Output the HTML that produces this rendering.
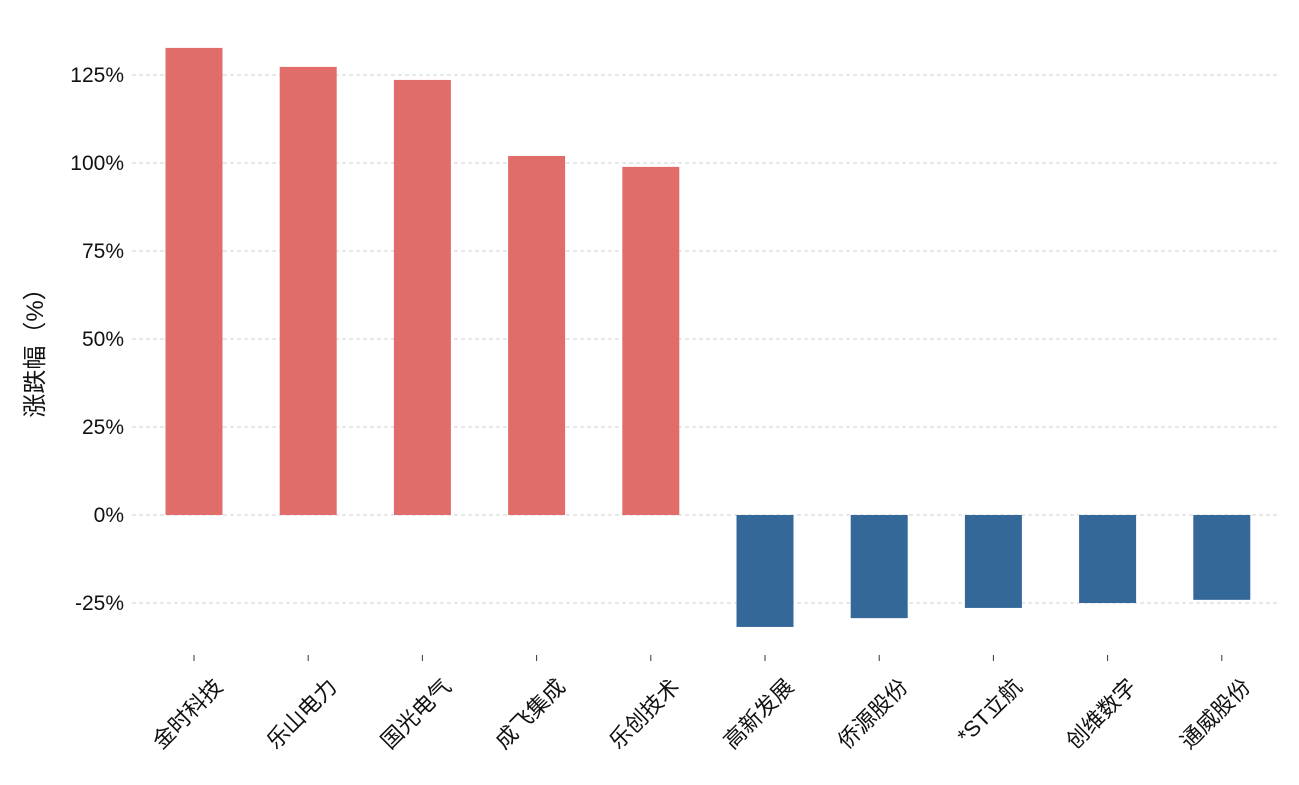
<!DOCTYPE html>
<html><head><meta charset="utf-8"><style>
body{margin:0;background:#fff;}
svg text{font-family:"Liberation Sans","Noto Sans CJK SC",sans-serif;}
</style></head><body>
<svg id="chart" width="1299" height="780"></svg>
<script>
const categories=["金时科技","乐山电力","国光电气","成飞集成","乐创技术","高新发展","侨源股份","*ST立航","创维数字","通威股份"];
const values=[132.7,127.3,123.6,102.0,98.9,-31.8,-29.3,-26.4,-25.0,-24.1];
const ticks=[-25,0,25,50,75,100,125];
const tickLabels=["-25%","0%","25%","50%","75%","100%","125%"];
const NS="http://www.w3.org/2000/svg";
const svg=document.getElementById('chart');
const y=v=>515-v*3.52;
const x=i=>194+i*114.2;
function mk(t,a,p){const e=document.createElementNS(NS,t);for(const k in a)e.setAttribute(k,a[k]);(p||svg).appendChild(e);return e;}
ticks.forEach((t,i)=>{
 const g=mk('line',{x1:132,x2:1280,y1:y(t),y2:y(t),stroke:'#d0d0d0','stroke-dasharray':'4,3','stroke-width':1});
 
 
 const l=mk('text',{x:124,y:y(t)+7,'text-anchor':'end','font-size':21,fill:'#111'});
 l.textContent=tickLabels[i];
 
 
});
categories.forEach((c,i)=>{
 const v=values[i];
 const r=mk('rect',{x:x(i)-28.5,width:57,y:Math.min(y(v),y(0)),height:Math.abs(y(v)-y(0)),fill:v>=0?'#e16d6b':'#336899'});
 
 
 const tk=mk('line',{x1:x(i),x2:x(i),y1:655,y2:661,stroke:'#333','stroke-width':1});
 
 
 const ax=x(i)+30, ay=688;
 const t=mk('text',{x:ax,y:ay,'text-anchor':'end','font-size':22,fill:'#111',transform:`rotate(-45 ${ax} ${ay})`});
 t.textContent=c;
 
 
});
const yt=mk('text',{x:43,y:347,'text-anchor':'middle','font-size':24,fill:'#111',transform:'rotate(-90 43 347)'});
yt.textContent='涨跌幅（%）';


</script>
</body></html>
